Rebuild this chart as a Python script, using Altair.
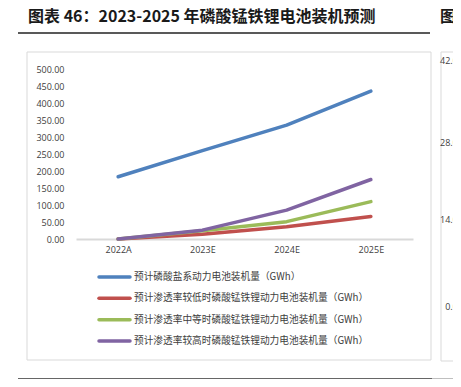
import altair as alt
import pandas as pd

years = ["2022A", "2023E", "2024E", "2025E"]
series = [
    "预计磷酸盐系动力电池装机量（GWh）",
    "预计渗透率较低时磷酸锰铁锂动力电池装机量（GWh）",
    "预计渗透率中等时磷酸锰铁锂动力电池装机量（GWh）",
    "预计渗透率较高时磷酸锰铁锂动力电池装机量（GWh）",
]
lfp_total = [183, 260, 335, 435]
lmfp_low = [0, 14, 36, 66]
lmfp_mid = [0, 24, 51, 110]
lmfp_high = [0, 26, 85, 175]
colors = ["#4F81BD", "#C0504D", "#9BBB59", "#8064A2"]
y_ticks = [0, 50, 100, 150, 200, 250, 300, 350, 400, 450, 500]
right_labels = ["42.00", "28.00", "14.00", "0.00"]

title_text = "图表 46：2023-2025 年磷酸锰铁锂电池装机预测"
cut_title = "图表"

rows = []
for s, vals in zip(series, [lfp_total, lmfp_low, lmfp_mid, lmfp_high]):
    for y, v in zip(years, vals):
        rows.append({"year": y, "value": v, "series": s})
df = pd.DataFrame(rows)
leg_df = pd.DataFrame({"series": series})

W, H = 337, 170
color_enc = alt.Color("series:N", scale=alt.Scale(domain=series, range=colors), legend=None)

base_font = "Noto Sans CJK SC"

lines = alt.Chart(df).mark_line(strokeWidth=3.5, strokeCap="round", strokeJoin="round").encode(
    x=alt.X("year:O", sort=years, title=None,
            axis=alt.Axis(labelAngle=0, domainColor="#d9d9d9", domainWidth=2, ticks=False,
                          labelPadding=6, labelFontSize=9, labelColor="#404040", labelFont="Open Sans")),
    y=alt.Y("value:Q", title=None, scale=alt.Scale(domain=[0, 500], nice=False),
            axis=alt.Axis(values=y_ticks, format=".2f", domain=False, ticks=False, grid=False,
                          labelPadding=12, labelFontSize=9, labelColor="#404040", labelFont="Open Sans")),
    color=color_enc,
    order=alt.Order("year:O"),
)

leg_y = alt.Y("series:N", scale=alt.Scale(type="point", domain=series, range=[208, 272], padding=0), axis=None)
leg_rules = alt.Chart(leg_df).mark_rule(strokeWidth=3.5, strokeCap="round").encode(
    x=alt.value(23), x2=alt.value(54), y=leg_y, color=color_enc,
)
leg_text = alt.Chart(leg_df).mark_text(align="left", baseline="middle", fontSize=9.7,
                                        color="#404040", font=base_font).encode(
    x=alt.value(58), y=leg_y, text="series:N",
)

dummy = pd.DataFrame({"a": [0]})

def rule(x1, x2, y, color, width):
    return alt.Chart(dummy).mark_rule(color=color, strokeWidth=width).encode(
        x=alt.value(x1), x2=alt.value(x2), y=alt.value(y))

box = alt.Chart(dummy).mark_rect(filled=False, stroke="#d9d9d9", strokeWidth=1).encode(
    x=alt.value(-49), x2=alt.value(355), y=alt.value(-17), y2=alt.value(291))
box2 = alt.Chart(dummy).mark_rect(filled=False, stroke="#d9d9d9", strokeWidth=1).encode(
    x=alt.value(365), x2=alt.value(500), y=alt.value(-17), y2=alt.value(292))

title = alt.Chart(dummy).mark_text(align="left", baseline="middle", fontSize=16, fontWeight="bold",
                                   font=base_font, color="#1a1a1a").encode(
    x=alt.value(-48), y=alt.value(-52), text=alt.value(title_text))
title2 = alt.Chart(dummy).mark_text(align="left", baseline="middle", fontSize=16, fontWeight="bold",
                                    font=base_font, color="#1a1a1a").encode(
    x=alt.value(364), y=alt.value(-52), text=alt.value(cut_title))

right_y = [-8, 74, 151, 238]
right_texts = [
    alt.Chart(dummy).mark_text(align="right", baseline="middle", fontSize=9, color="#404040",
                               font="Open Sans").encode(
        x=alt.value(387), y=alt.value(yy), text=alt.value(t))
    for t, yy in zip(right_labels, right_y)
]

chart = alt.layer(
    box, box2,
    rule(-58, 354, -36, "#222222", 1.5),
    rule(-58, 356, 310, "#333333", 1.5),
    rule(356, 400, 310, "#aaaaaa", 1.5),
    title, title2,
    lines, leg_rules, leg_text,
    *right_texts,
).resolve_scale(y="independent").properties(
    width=W, height=H,
    autosize=alt.AutoSizeParams(type="none"),
    padding={"left": 68, "top": 61, "right": 40, "bottom": 140},
).configure_view(stroke=None)

chart.save("out.html", embed_options={"renderer": "svg", "actions": False})
